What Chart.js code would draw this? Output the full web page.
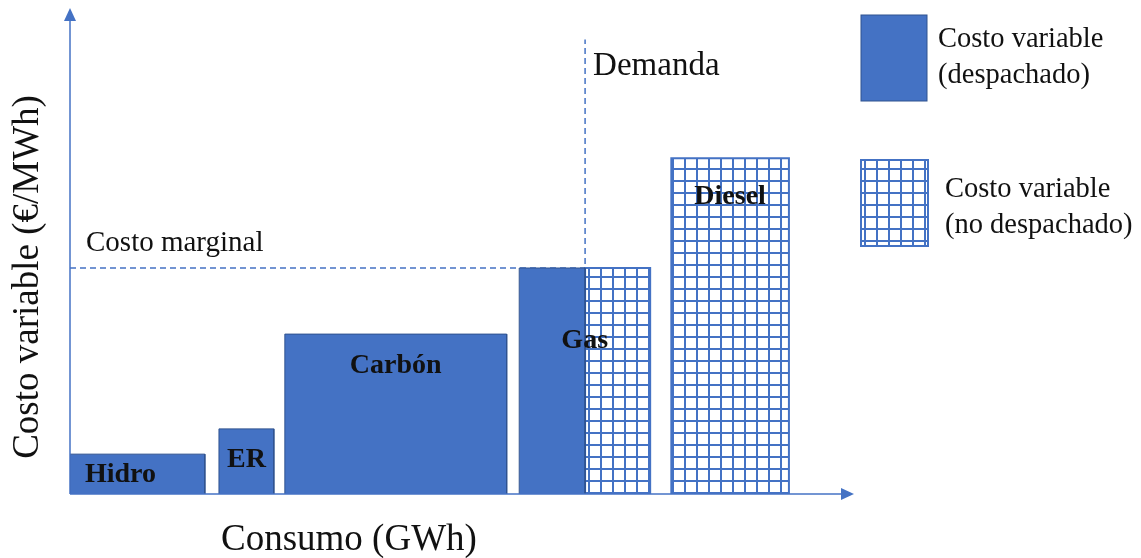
<!DOCTYPE html>
<html>
<head>
<meta charset="utf-8">
<script src="https://cdn.jsdelivr.net/npm/chart.js@4.4.0/dist/chart.umd.min.js"></script>
<style>
  html, body { margin: 0; padding: 0; background: #fff; }
  #wrap { width: 1141px; height: 558px; position: relative; }
</style>
</head>
<body>
<div id="wrap"><canvas id="c"></canvas></div>
<script>
// Merit-order dispatch: each plant is a block of capacity on the consumption axis
// with a height equal to its variable cost.
const plants       = ['Hidro', 'ER', 'Carbón', 'Gas', 'Diesel'];
const blockStart   = [0, 19.0, 27.4, 57.3, 76.7];    // GWh
const blockEnd     = [17.2, 26.0, 55.7, 74.0, 91.7]; // GWh
const variableCost = [8.2, 13.4, 32.9, 46.5, 69.1];  // €/MWh
const demand = 65.7;          // GWh
const demandLineTop = 93.5;   // €/MWh, upper end of the demand marker
const xRange = [0, 100];
const yRange = [0, 100];

const legendLabels = [['Costo variable', '(despachado)'], ['Costo variable', '(no despachado)']];
const xTitle = 'Consumo (GWh)';
const yTitle = 'Costo variable (€/MWh)';
const marginalLabel = 'Costo marginal';
const demandLabel = 'Demanda';

// The marginal plant is the one whose block contains the demand.
const marginalIdx = plants.findIndex((p, i) => blockStart[i] <= demand && demand < blockEnd[i]);
const marginalCost = variableCost[marginalIdx];

// Styling
const BLUE = '#4472C4';
const DARK_BLUE = '#2F528F';
const TEXT = '#111';
const SERIF = '"Liberation Serif", "Times New Roman", serif';
const labelOffset = { 'Hidro': [-17, 28], 'ER': [0, 38], 'Carbón': [0, 39], 'Gas': [0, 80], 'Diesel': [0, 46] };

const canvas = document.getElementById('c');
const ctx = canvas.getContext('2d');

function gridPattern() {
  const t = document.createElement('canvas');
  t.width = 12; t.height = 12;
  const g = t.getContext('2d');
  g.fillStyle = '#fff'; g.fillRect(0, 0, 12, 12);
  g.fillStyle = BLUE;
  g.fillRect(0, 0, 12, 2);
  g.fillRect(0, 0, 2, 12);
  return ctx.createPattern(t, 'repeat');
}
const hatch = gridPattern();

const solidStyle = { backgroundColor: BLUE, borderColor: DARK_BLUE, borderWidth: 1 };
const hatchStyle = { backgroundColor: hatch, borderColor: BLUE, borderWidth: 2 };

const block = (x0, x1, h) => [{ x: x0, y: 0 }, { x: x0, y: h }, { x: x1, y: h }, { x: x1, y: 0 }];

const datasets = [];
plants.forEach((p, i) => {
  const s = blockStart[i], e = blockEnd[i], h = variableCost[i];
  if (s < demand) {
    datasets.push(Object.assign({ label: p + ' (despachado)', data: block(s, Math.min(e, demand), h), fill: 'origin', order: 1 }, solidStyle));
  }
  if (e > demand) {
    datasets.push(Object.assign({ label: p + ' (no despachado)', data: block(Math.max(s, demand), e, h), fill: 'origin', order: 1 }, hatchStyle));
  }
});
// Marginal cost and demand markers
datasets.push({ label: marginalLabel, data: [{ x: xRange[0], y: marginalCost }, { x: demand, y: marginalCost }],
  borderColor: BLUE, borderWidth: 1.5, borderDash: [6, 4], fill: false, order: 5 });
datasets.push({ label: demandLabel, data: [{ x: demand, y: 0 }, { x: demand, y: demandLineTop }],
  borderColor: BLUE, borderWidth: 1.5, borderDash: [6, 4], fill: false, order: 5 });

const decorations = {
  id: 'decorations',
  afterDatasetsDraw(chart) {
    const c = chart.ctx, xs = chart.scales.x, ys = chart.scales.y, a = chart.chartArea;
    c.save();
    // Axes with arrowheads
    const x0 = xs.getPixelForValue(xRange[0]), y0 = ys.getPixelForValue(yRange[0]);
    c.strokeStyle = BLUE; c.fillStyle = BLUE; c.lineWidth = 1.5;
    c.beginPath(); c.moveTo(x0, y0); c.lineTo(x0, a.top + 10); c.stroke();
    c.beginPath(); c.moveTo(x0, a.top); c.lineTo(x0 - 6, a.top + 13); c.lineTo(x0 + 6, a.top + 13); c.closePath(); c.fill();
    c.beginPath(); c.moveTo(x0, y0); c.lineTo(a.right - 10, y0); c.stroke();
    c.beginPath(); c.moveTo(a.right, y0); c.lineTo(a.right - 13, y0 - 6); c.lineTo(a.right - 13, y0 + 6); c.closePath(); c.fill();

    // Plant labels
    c.fillStyle = TEXT;
    c.font = 'bold 28px ' + SERIF;
    c.textAlign = 'center'; c.textBaseline = 'alphabetic';
    plants.forEach((p, i) => {
      const cx = (xs.getPixelForValue(blockStart[i]) + xs.getPixelForValue(blockEnd[i])) / 2;
      const top = ys.getPixelForValue(variableCost[i]);
      const off = labelOffset[p] || [0, 30];
      c.fillText(p, cx + off[0], top + off[1]);
    });

    // Marker annotations
    c.textAlign = 'left';
    c.font = '29px ' + SERIF;
    c.fillText(marginalLabel, x0 + 16, ys.getPixelForValue(marginalCost) - 17);
    c.font = '33px ' + SERIF;
    c.fillText(demandLabel, xs.getPixelForValue(demand) + 8, 75);

    // Axis titles
    c.font = '37px ' + SERIF;
    c.textAlign = 'left';
    c.fillText(xTitle, 221, 550);
    c.save();
    c.translate(38, 277);
    c.rotate(-Math.PI / 2);
    c.textAlign = 'center';
    c.fillText(yTitle, 0, 0);
    c.restore();

    // Legend
    const boxes = [
      { x: 861, y: 15, w: 66, h: 86, style: solidStyle, tx: 938, ty: [47, 83] },
      { x: 861, y: 160, w: 67, h: 86, style: hatchStyle, tx: 945, ty: [197, 233] }
    ];
    boxes.forEach((b, i) => {
      c.fillStyle = b.style.backgroundColor;
      c.fillRect(b.x, b.y, b.w, b.h);
      c.strokeStyle = b.style.borderColor;
      c.lineWidth = b.style.borderWidth;
      c.strokeRect(b.x, b.y, b.w, b.h);
      c.fillStyle = TEXT;
      c.font = '28.5px ' + SERIF;
      c.textAlign = 'left';
      legendLabels[i].forEach((t, k) => c.fillText(t, b.tx, b.ty[k]));
    });
    c.restore();
  }
};

new Chart(canvas, {
  type: 'line',
  data: { datasets },
  options: {
    responsive: true,
    maintainAspectRatio: false,
    animation: false,
    events: [],
    layout: { padding: { left: 70, right: 287, top: 8, bottom: 64 } },
    elements: { point: { radius: 0 }, line: { tension: 0, borderJoinStyle: 'miter' } },
    scales: {
      x: { type: 'linear', min: xRange[0], max: xRange[1], display: false },
      y: { type: 'linear', min: yRange[0], max: yRange[1], display: false }
    },
    plugins: { legend: { display: false }, tooltip: { enabled: false } }
  },
  plugins: [decorations]
});
</script>
</body>
</html>
